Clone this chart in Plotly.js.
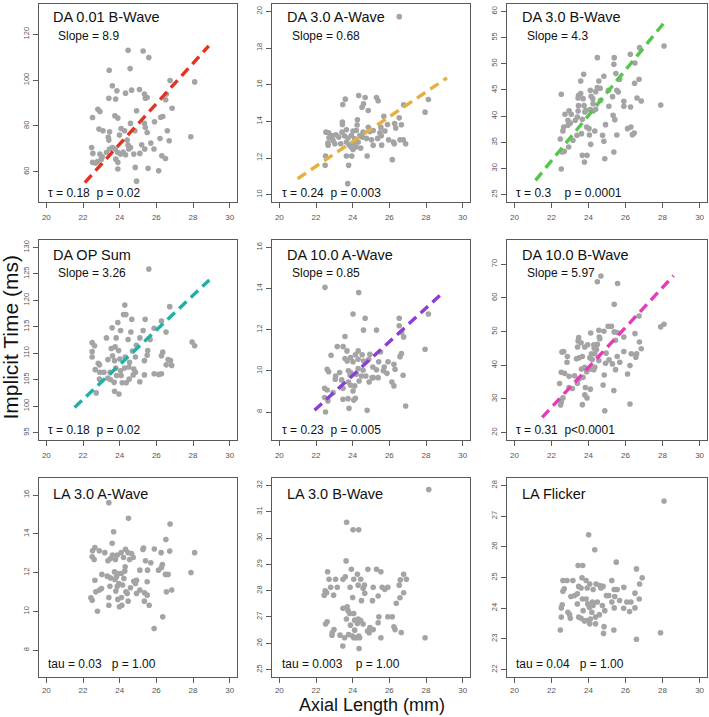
<!DOCTYPE html>
<html><head><meta charset="utf-8">
<script src="https://cdn.plot.ly/plotly-3.0.1.min.js"></script>
<style>html,body{margin:0;padding:0;background:#fff}#chart{width:709px;height:717px}</style>
</head><body><div id="chart"></div>
<script>
// ---------- DATA ----------
const panelTitles = ["DA 0.01 B-Wave","DA 3.0 A-Wave","DA 3.0 B-Wave","DA OP Sum","DA 10.0 A-Wave","DA 10.0 B-Wave","LA 3.0 A-Wave","LA 3.0 B-Wave","LA Flicker"];
const slopeLabels = ["Slope = 8.9","Slope = 0.68","Slope = 4.3","Slope = 3.26","Slope = 0.85","Slope = 5.97",null,null,null];
const statLabels = ["τ = 0.18\u00a0 p = 0.02","τ = 0.24\u00a0 p = 0.003","τ = 0.3\u00a0\u00a0\u00a0 p = 0.0001",
  "τ = 0.18\u00a0 p = 0.02","τ = 0.23\u00a0 p = 0.005","τ = 0.31\u00a0 p<0.0001",
  "tau = 0.03\u00a0\u00a0 p = 1.00","tau = 0.003\u00a0\u00a0\u00a0 p = 1.00","tau = 0.04\u00a0\u00a0 p = 1.00"];
const xTickVals = [20,22,24,26,28,30];
const yTickVals = [[60,80,100,120],[10,12,14,16,18,20],[25,30,35,40,45,50,55,60],[95,100,105,110,115,120,125,130],
  [8,10,12,14,16],[20,30,40,50,60,70],[8,10,12,14,16],[25,26,27,28,29,30,31,32],[22,23,24,25,26,27,28]];
const yLimits = [[50,130],[10,20],[25,60],[95,130],[7,16],[20,75],[7,16.5],[25,32],[22,28]];
const xLimits = [20,30];

const da001bX = [24.46,25.28,25.59,23.43,24.57,23.6,23.85,24.65,25.08,23.41,
 23.78,24.32,25.35,25.4,25.5,26.55,26.51,26.75,28.09,26.86,
 22.81,22.92,24.92,23.74,23.9,22.52,26.35,26.24,24.59,25.35,
 25.9,25.4,22.87,23.09,23.45,24.08,24.27,24.83,25.5,26.6,
 27.88,23.38,23.41,23.99,24.41,24.46,25.2,25.7,26.2,26.7,
 22.47,22.54,22.92,23.05,23.28,23.45,23.61,23.76,23.9,24.05,
 24.19,24.32,24.5,24.77,25.1,25.37,25.87,26.3,26.5,22.52,
 22.79,22.68,23.79,23.9,23.9,24.85,25.55,26.13,24.92,23.0,24.59];
const da001bY = [113,112.7,109.8,104.3,105,97.5,95.3,95.6,95.9,92.1,
 91.7,94.3,93.9,92.1,92.4,93.9,91.4,99.8,99.2,87.7,
 87.3,86.3,86.6,84.4,83.4,83.7,84.1,83.8,81.1,81.1,
 81.8,79.3,78.6,77.9,77.4,78.9,77.9,77.9,77.1,77.9,
 75.3,75,73.8,76,73.8,71.6,71.8,72.5,74.5,73.5,
 70.6,68,67.7,66.5,68.4,69.9,70.6,69.9,68.4,67.7,
 68.6,67.4,69.9,67.7,68,69.9,69.9,67,65.8,64.1,
 64.4,63.8,65.5,64.1,61.2,61.9,61.5,60.4,55.9,65.5,70.6];

const da30aX = [26.54,23.6,24.33,24.68,25.3,25.39,23.46,24.59,24.51,24.85,
 26.78,28.13,27.95,25.7,23.44,23.44,24.26,26.54,26.29,25.9,
 24.24,24.85,25.54,26.35,26.66,22.54,22.69,22.89,23.09,23.42,
 23.66,24.02,24.2,24.57,24.94,25.12,25.48,25.76,22.71,22.93,
 23.24,23.56,23.75,23.93,24.11,24.39,24.53,24.75,25.03,25.36,
 25.56,25.96,26.58,26.76,26.22,26.89,26.27,22.65,22.66,23.03,
 23.35,23.66,23.8,24.06,24.2,23.91,24.3,25.12,25.58,24.02,
 24.44,23.66,23.95,22.52,24.79,26.16,23.78,22.5,23.73];
const da30aY = [19.71,15.21,15.41,15.3,15.3,15.12,14.92,14.95,14.77,14.59,
 14.9,15.19,14.5,14.28,13.96,13.83,14.08,14.19,13.88,13.83,
 13.8,13.68,13.67,13.63,13.81,13.41,13.38,13.23,13.27,13.41,
 13.54,13.47,13.5,13.41,13.45,13.5,13.38,13.47,13.1,12.96,
 13.14,13.2,13.09,13.23,13.05,13.23,13.14,13.07,12.99,13.07,
 13.21,12.99,12.99,12.99,12.87,12.78,12.78,12.81,12.7,12.78,
 12.78,12.87,12.72,12.81,12.6,12.6,12.87,12.69,12.7,12.47,
 12.54,12.11,12.11,12.11,12.11,11.91,11.6,11.6,10.6];

const da30bX = [24.48,25.39,26.26,26.76,28.08,25.37,26.51,23.74,23.58,24.56,
 24.83,25.48,25.68,26.73,26.49,24.1,24.39,24.63,24.48,25.08,
 25.53,25.61,22.53,23.46,23.58,23.71,23.44,24.14,24.23,25.3,
 26.62,26.85,25.91,25.91,26.27,27.9,23.46,23.76,24.25,25.1,
 24.65,22.95,23.44,24.1,24.25,24.39,23.8,23.87,22.73,23.07,
 23.4,25.33,25.42,22.66,22.89,23.02,22.89,23.29,23.67,24.03,
 23.9,24.92,26.11,26.29,22.62,23.62,23.38,24.34,24.05,24.76,
 25.53,26.37,26.47,22.48,23.16,24.12,24.83,22.93,22.69,22.58,
 25.37,23.67,23.92,23.78,24.88,22.53];
const da30bY = [51.16,51.16,51.8,53.07,53.39,49.89,50.14,47.98,46.71,46.71,
 47.6,48.11,47.02,47.02,46.26,44.92,44.67,45.31,45.43,44.92,
 44.92,44.6,44.16,43.91,44.29,43.33,43.46,43.78,43.33,43.71,
 43.46,42.89,42.82,41.87,41.74,42.12,41.99,41.99,42.38,41.87,
 43.01,41.0,40.98,41.23,40.98,41.3,40.79,41.1,40.34,40.34,
 39.83,40.15,39.32,37.92,38.24,38.69,39.2,39.2,39.39,37.6,
 37.92,38.37,37.6,37.92,37.16,36.65,36.33,37.16,36.39,36.33,
 36.39,36.46,36.78,35.63,35.38,34.61,35.18,34.1,33.27,33.15,
 33.15,32.51,32.51,31.24,31.87,29.9];

const daOpX = [25.59,24.28,24.21,24.34,26.73,23.9,24.66,25.39,26.28,23.59,
 24.05,24.61,25.28,25.88,26.53,23.28,23.81,24.46,25.1,25.66,
 27.95,28.09,22.5,22.63,22.5,23.54,23.75,23.94,24.91,24.7,
 25.53,26.35,22.5,23.61,24.3,24.86,25.5,26.28,26.64,26.77,
 22.83,22.9,23.36,23.72,24.01,24.54,25.35,26.54,26.84,22.67,
 22.92,23.14,23.48,23.79,24.05,24.27,24.5,24.77,24.86,23.83,
 22.9,23.36,23.5,24.08,24.52,24.74,25.35,25.88,26.13,26.28,
 23.7,24.14,24.36,25.1,23.72,23.96,22.72];
const daOpY = [125.9,119.1,117.3,117.3,118.8,115.8,116.4,116.4,116.1,114.8,
 114.3,114,114.3,114.7,114,112.9,112.9,112.6,112.9,112.6,
 112.1,111.4,112,111.4,110.3,110.9,111.2,110.5,111.5,110.4,
 110.5,110.2,109.3,109.5,109.3,109.3,109.6,109.5,108.8,108.6,
 108.1,107.8,108.8,108.6,108.9,108.3,108.6,107.8,107.7,106.9,
 106.4,106.4,106.4,107.2,106.7,107.2,107.4,107,106.4,105.8,
 105.1,105.3,105,105.8,105.1,105.9,105.9,106.1,106,106.1,
 104.5,104.4,104.4,104.6,102.8,102.3,102.5];

const da10aX = [22.49,24.33,24.02,24.68,26.54,25.3,24.59,26.54,26.67,26.78,
 28.13,27.95,23.58,23.16,23.48,22.82,23.69,24.15,24.3,24.52,
 24.94,24.88,25.52,26.66,26.58,23.58,23.7,24.02,23.89,24.3,
 24.6,25.42,25.93,26.25,22.61,22.69,23.29,23.77,23.89,24.3,
 24.57,25.1,25.3,25.72,25.67,26.31,23.07,23.05,23.4,23.86,
 24.2,24.48,24.72,25.06,25.39,25.87,26.75,23.77,23.89,24.11,
 24.35,24.9,25.12,26.14,26.25,22.47,22.61,22.93,23.47,24.02,
 22.47,22.65,23.47,23.75,24.06,24.15,23.8,24.79,22.52,26.89];
const da10aY = [14.06,13.81,12.76,12.56,12.56,11.98,11.98,12.19,11.86,11.65,
 12.76,11.05,11.67,11.18,11.18,10.76,10.97,10.78,10.97,10.78,
 10.81,10.56,10.92,10.84,10.69,10.6,10.48,10.44,10.65,10.56,
 10.48,10.44,10.44,10.32,10.08,9.96,9.92,10,9.92,10.11,
 10.03,10.19,10.05,10.19,10,10.08,9.75,9.59,9.56,9.8,
 9.83,9.75,9.75,9.67,9.67,9.88,9.79,9.46,9.3,9.27,
 9.51,9.46,9.67,9.46,9.27,9.15,9.07,8.94,9.15,9.02,
 8.7,8.54,8.62,8.65,8.58,8.67,8.18,8.08,8.0,8.29];

const da10bX = [24.67,24.48,25.57,25.39,26.73,28.08,27.9,25.06,25.24,25.39,
 25.55,24.56,24.83,24.12,26.51,26.75,26.85,23.47,23.44,23.6,
 23.96,24.29,24.48,24.61,24.58,25.46,25.91,22.66,22.57,23.41,
 23.8,24.3,24.43,24.16,24.34,24.95,25.91,26.31,26.6,26.56,
 22.86,23.49,23.67,23.35,24.07,24.2,24.56,25.55,25.11,25.29,
 25.69,26.24,24.92,22.84,23.8,23.62,23.9,24.1,24.34,24.29,
 25.46,22.53,22.71,22.95,23.25,24.85,26.11,23.49,23.71,22.44,
 23.4,24.79,22.95,23.13,23.83,24.1,25.37,23.8,23.92,22.62,
 22.53,23.67,26.24,22.49,24.88];
const da10bY = [66.5,64.8,64.3,58.1,54.6,52.2,51.4,51.6,51.6,49.9,
 49.7,50.4,50.1,49.6,49.4,46.9,44.9,48.2,47.2,46.7,
 46.1,46.1,46.2,47.9,48.4,47.4,48.4,44.1,43.9,45.4,
 45.4,45.1,44.7,43.4,43.4,43.6,44.1,43.4,43.4,42.4,
 42.6,42.2,42.6,41.9,42.2,41.7,41.4,42.6,41.6,40.4,
 40.9,39.9,40.6,40.9,39.4,38.9,38.1,38.9,39.4,38.7,
 38.7,37.9,37.6,36.7,36.9,37.1,37.4,35.9,36.4,34.6,
 34.6,34.1,33.4,33.1,33.4,32.9,32.5,31.2,30.3,30.3,
 29,28.3,28.5,28.2,26.5];

const la30aX = [23.41,24.48,26.75,23.67,26.52,23.59,22.65,22.52,22.89,23.19,
 23.61,23.87,24.08,24.32,24.46,24.65,25.3,25.27,25.89,26.26,
 26.73,28.09,22.5,22.61,23.77,23.36,23.5,24.21,24.54,24.74,
 25.41,25.7,26.33,26.28,24.3,26.12,23.72,24.28,23.92,24.1,
 25.1,25.52,27.89,26.5,26.64,23.03,23.32,23.5,23.74,23.83,
 24.23,22.65,24.77,24.92,25.5,24.86,23.96,23.47,23.87,24.16,
 24.59,23.01,22.9,22.7,23.79,24.34,24.41,24.92,25.1,25.35,
 25.5,26.55,26.84,22.43,22.5,23.41,23.9,24.1,24.46,25.35,
 23.41,23.99,24.12,25.61,22.79,26.35,25.88];
const la30aY = [15.61,14.8,14.51,14.11,13.71,13.51,13.3,13.13,13.13,13.03,
 12.91,12.91,13.03,13.2,13.03,12.99,13.27,13.2,13.22,13.03,
 13.11,13.03,12.82,12.68,12.68,12.61,12.73,12.78,12.68,12.78,
 12.61,12.51,12.42,12.27,12.3,12.13,12.04,12.08,11.96,11.96,
 12.13,12.13,12.01,11.91,11.91,11.91,11.82,11.73,11.65,11.79,
 11.7,11.61,11.56,11.61,11.53,11.44,11.44,11.3,11.3,11.36,
 11.22,11.18,11.1,11.01,11.05,11.01,10.93,10.93,11.1,10.96,
 10.84,11.01,11.1,10.7,10.58,10.72,10.62,10.72,10.53,10.53,
 10.32,10.24,10.32,10.32,10.01,9.72,9.12];

const la30bX = [28.15,23.67,24.02,24.33,23.64,22.63,23.93,24.83,25.3,25.54,
 26.78,26.93,26.6,22.71,23.07,23.47,23.6,24.06,24.26,24.44,
 24.3,24.64,22.8,23.16,23.86,24.57,25.12,25.61,25.92,25.75,
 26.54,22.5,22.58,22.45,22.96,24.66,25.39,26.78,24.0,24.48,
 25.08,26.58,26.38,23.7,23.47,23.75,23.84,24.06,25.43,25.92,
 26.16,23.66,24.11,24.3,24.44,22.61,22.52,24.26,25.39,23.88,
 24.57,26.25,26.31,24.94,25.12,22.98,22.89,22.87,24.81,24.9,
 24.11,26.65,23.31,23.78,23.99,24.33,23.56,24.06,24.2,24.38,
 25.54,27.95,23.46,24.35];
const la30bY = [31.84,30.6,30.31,30.31,29.13,28.72,28.81,28.81,28.81,28.72,
 28.62,28.43,28.41,28.43,28.43,28.43,28.53,28.43,28.62,28.43,
 28.21,28.21,28.13,28.13,28.13,28.09,28.13,28.13,28.13,28.05,
 28.21,27.99,27.92,27.83,27.83,27.9,27.8,27.92,27.74,27.62,
 27.62,27.73,27.52,27.39,27.33,27.24,27.13,27.13,27.01,27.01,
 27.01,26.92,26.88,26.92,26.86,26.82,26.73,26.75,26.78,26.69,
 26.73,26.63,26.52,26.6,26.52,26.52,26.41,26.31,26.47,26.4,
 26.5,26.41,26.31,26.33,26.28,26.28,26.21,26.21,26.21,26.21,
 26.21,26.21,25.9,25.8];

const laFlkX = [28.08,24.01,24.34,25.5,23.44,23.69,26.59,26.9,23.65,22.62,
 22.84,23.16,23.87,25.26,26.76,24.07,24.41,24.61,24.79,23.47,
 23.6,23.93,25.91,22.69,22.62,24.25,24.67,25.39,25.55,23.4,
 26.51,23.05,23.25,24.97,25.1,25.42,23.67,23.87,25.68,26.74,
 24.21,24.48,23.96,24.75,23.4,25.26,26.07,26.29,22.58,22.53,
 24.05,24.25,25.39,25.9,26.51,26.22,23.71,24.88,22.89,24.18,
 22.98,23.47,23.6,24.38,23.02,22.53,23.87,24.1,24.59,24.07,
 24.38,23.78,24.84,22.48,25.37,24.81,27.89,26.59];
const laFlkY = [27.49,26.39,25.9,25.5,25.39,25.39,25.28,24.99,24.99,24.9,
 24.9,24.9,24.9,24.9,24.79,24.79,24.79,24.74,24.71,24.71,
 24.66,24.66,24.68,24.63,24.55,24.61,24.66,24.61,24.61,24.47,
 24.49,24.38,24.41,24.41,24.41,24.38,24.3,24.3,24.25,24.3,
 24.2,24.2,24.14,24.09,24.14,24.2,24.2,24.2,24.11,24.01,
 24.03,24.09,24.01,24.0,24.01,23.89,23.92,23.92,23.87,23.87,
 23.79,23.71,23.67,23.71,23.67,23.71,23.6,23.65,23.79,23.49,
 23.49,23.58,23.4,23.29,23.29,23.18,23.2,22.99];

// fitted trend lines (end points)
const da001bFitX = [22.1,28.86],  da001bFitY = [55.3,114.9];
const da30aFitX  = [21.0,29.14],  da30aFitY  = [10.87,16.37];
const da30bFitX  = [21.14,28.19], da30bFitY  = [27.74,58.29];
const daOpFitX   = [21.54,28.89], daOpFitY   = [99.76,123.85];
const da10aFitX  = [21.92,28.87], da10aFitY  = [8.08,13.76];
const da10bFitX  = [21.5,28.59],  da10bFitY  = [24.5,66.6];

// ---------- BUILD ----------
const pointsX = [da001bX,da30aX,da30bX,daOpX,da10aX,da10bX,la30aX,la30bX,laFlkX];
const pointsY = [da001bY,da30aY,da30bY,daOpY,da10aY,da10bY,la30aY,la30bY,laFlkY];
const fitsX = [da001bFitX,da30aFitX,da30bFitX,daOpFitX,da10aFitX,da10bFitX,null,null,null];
const fitsY = [da001bFitY,da30aFitY,da30bFitY,daOpFitY,da10aFitY,da10bFitY,null,null,null];
const fitColors = ["#e5321f","#e5b13e","#56c64a","#1fb1a8","#8a3dd8","#e63bb9"];

const W = 709, H = 717;
const colBox = [[39,237],[272,470],[507,707]];
const rowBox = [[4,202],[240,440],[478,677]];
const titleDy = [13.3,15,15.7], slopeDy = [31.7,32.7,0], statDy = [9.3,10,13.3];
const titleDx = [14.3,15,15], slopeDx = [19.3,20,20], statDx = [9.3,10.4,9];
const xStandoff = [3,3,1];
const FONT = "Liberation Sans, Arial, Helvetica, sans-serif";

function pad(lim){const d=(lim[1]-lim[0])*0.04;return [lim[0]-d,lim[1]+d];}

const traces = [], annotations = [];
const layout = {width:W,height:H,autosize:false,margin:{l:0,r:0,t:0,b:0},
  paper_bgcolor:"#fff",plot_bgcolor:"#fff",showlegend:false,font:{family:FONT,color:"#222"},annotations:annotations};

for(let i=0;i<9;i++){
  const r=Math.floor(i/3), c=i%3;
  const xs = i===0?"x":"x"+(i+1), ys = i===0?"y":"y"+(i+1);
  const common = {showline:true,mirror:true,linecolor:"#5a5a5a",linewidth:1.2,showgrid:false,zeroline:false,
    ticks:"outside",ticklen:4.5,tickwidth:1,tickcolor:"#5a5a5a",fixedrange:true};
  layout[i===0?"xaxis":"xaxis"+(i+1)] = Object.assign({},common,{
    domain:[colBox[c][0]/W,colBox[c][1]/W],range:pad(xLimits),anchor:ys,
    tickmode:"array",tickvals:xTickVals,ticktext:xTickVals.map(String),
    tickfont:{size:8,color:"#555",family:FONT},ticklabelstandoff:xStandoff[r]});
  layout[i===0?"yaxis":"yaxis"+(i+1)] = Object.assign({},common,{
    domain:[1-rowBox[r][1]/H,1-rowBox[r][0]/H],range:pad(yLimits[i]),anchor:xs,
    tickmode:"array",tickvals:yTickVals[i],ticktext:yTickVals[i].map(String),tickangle:-90,
    tickfont:{size:7.5,color:"#555",family:FONT},ticklabelstandoff:1});
  traces.push({type:"scatter",mode:"markers",x:pointsX[i],y:pointsY[i],xaxis:xs,yaxis:ys,
    marker:{size:5.6,color:"#a4a4a4"},hoverinfo:"skip"});
  if(fitsX[i]){
    traces.push({type:"scatter",mode:"lines",x:fitsX[i],y:fitsY[i],xaxis:xs,yaxis:ys,
      line:{color:fitColors[i],width:3.4,dash:"10px,6px"},hoverinfo:"skip"});
  }
  const xr = xs+" domain", yr = ys+" domain";
  annotations.push({xref:xr,yref:yr,x:0,y:1,xanchor:"left",yanchor:"middle",showarrow:false,
    xshift:titleDx[c]-2,yshift:-titleDy[r],text:panelTitles[i],font:{size:14.5,color:"#111",family:FONT}});
  if(slopeLabels[i]){
    annotations.push({xref:xr,yref:yr,x:0,y:1,xanchor:"left",yanchor:"middle",showarrow:false,
      xshift:slopeDx[c]-2,yshift:-slopeDy[r],text:slopeLabels[i],font:{size:12,color:"#111",family:FONT}});
  }
  annotations.push({xref:xr,yref:yr,x:0,y:0,xanchor:"left",yanchor:"middle",showarrow:false,
    xshift:statDx[c]-2,yshift:statDy[r],text:statLabels[i],font:{size:12,color:"#111",family:FONT}});
}
annotations.push({xref:"paper",yref:"paper",x:10/W,y:1-337.5/H,xanchor:"center",yanchor:"middle",showarrow:false,
  textangle:-90,text:"Implicit Time (ms)",font:{size:21,color:"#111",family:FONT}});
annotations.push({xref:"paper",yref:"paper",x:372/W,y:1-705/H,xanchor:"center",yanchor:"middle",showarrow:false,
  borderpad:0,borderwidth:0,text:"Axial Length (mm)",font:{size:18,color:"#111",family:FONT}});

Plotly.newPlot("chart",traces,layout,{staticPlot:true,displayModeBar:false});
</script>
</body></html>
